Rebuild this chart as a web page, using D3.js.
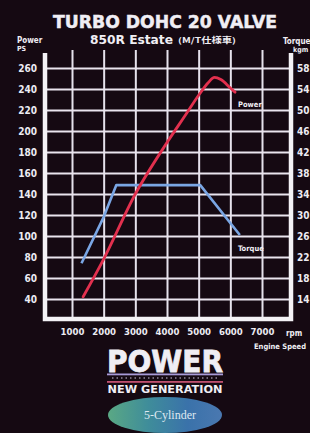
<!DOCTYPE html>
<html>
<head>
<meta charset="utf-8">
<script src="https://cdn.jsdelivr.net/npm/d3@7"></script>
<style>
  html, body { margin: 0; padding: 0; background: #150912; overflow: hidden; }
  svg { display: block; }
  .tick text { fill: #ecebf2; font-family: "DejaVu Sans Condensed", "DejaVu Sans", sans-serif; font-weight: bold; }
  .lbl { fill: #f0eef4; font-family: "DejaVu Sans Condensed", "DejaVu Sans", sans-serif; font-weight: bold; }
</style>
</head>
<body>
<div id="svg-area"></div>
<script>
// engine chart data
var rpmTicks = [1000, 2000, 3000, 4000, 5000, 6000, 7000];
var powerTicks = [40, 60, 80, 100, 120, 140, 160, 180, 200, 220, 240, 260];
var torqueTicks = [14, 18, 22, 26, 30, 34, 38, 42, 46, 50, 54, 58];

// Power PS curve
var powerRpm = [1350, 2000, 3000, 4000, 4600, 5000, 5300, 5500, 5700, 6000, 6150];
var powerPS  = [42, 78, 140, 189, 216, 234, 246, 251, 249, 241, 237];

// Torque kgm curve
var torqueRpm = [1300, 2000, 2400, 5050, 6300];
var torqueKgm = [20.8, 29.6, 35.7, 35.7, 26.2];

var svgWidth = 310;
var svgHeight = 433;

// frame box
var frame = { left: 45, right: 291, top: 53, bottom: 319 };

var svg = d3.select("#svg-area")
  .append("svg")
  .attr("width", svgWidth)
  .attr("height", svgHeight);

svg.append("rect")
  .attr("width", svgWidth)
  .attr("height", svgHeight)
  .attr("fill", "#150912");

// scales
var xScale = d3.scaleLinear().domain([1000, 7000]).range([72, 262]);
var yPower = d3.scaleLinear().domain([40, 260]).range([299, 68]);
var yTorque = d3.scaleLinear().domain([14, 58]).range([299, 68]);

// vertical grid + rpm labels
var bottomAxis = d3.axisBottom(xScale)
  .tickValues(rpmTicks)
  .tickSize(-(frame.bottom - 50))
  .tickPadding(9)
  .tickFormat(d3.format("d"));

var gx = svg.append("g")
  .attr("transform", `translate(0, ${frame.bottom})`)
  .call(bottomAxis);
gx.select(".domain").remove();
gx.selectAll("line").attr("stroke", "#e6e2ec").attr("stroke-width", 2);
gx.selectAll("text").style("font-size", "9.5px");

// horizontal grid + power labels
var leftAxis = d3.axisLeft(yPower)
  .tickValues(powerTicks)
  .tickSize(-(frame.right - frame.left))
  .tickPadding(8);

var gy = svg.append("g")
  .attr("transform", `translate(${frame.left}, 0)`)
  .call(leftAxis);
gy.select(".domain").remove();
gy.selectAll("line").attr("stroke", "#e9e4ee").attr("stroke-width", 2);
gy.selectAll("text").style("font-size", "10px");

// torque labels on the right (cut by the page edge)
var rightAxis = d3.axisRight(yTorque)
  .tickValues(torqueTicks)
  .tickSize(0)
  .tickPadding(6);

var gr = svg.append("g")
  .attr("transform", `translate(${frame.right}, 0)`)
  .call(rightAxis);
gr.select(".domain").remove();
gr.selectAll("text").style("font-size", "10px");

// white frame
svg.append("path")
  .attr("d", `M${frame.left},${frame.top}V${frame.bottom}H${frame.right}V${frame.top}`)
  .attr("fill", "none")
  .attr("stroke", "#f4f2f6")
  .attr("stroke-width", 4.5);

// curves
var powerData = d3.zip(powerRpm, powerPS);
var torqueData = d3.zip(torqueRpm, torqueKgm);

var powerLine = d3.line()
  .x(d => xScale(d[0]))
  .y(d => yPower(d[1]))
  .curve(d3.curveMonotoneX);

var torqueLine = d3.line()
  .x(d => xScale(d[0]))
  .y(d => yTorque(d[1]));

svg.append("path")
  .datum(torqueData)
  .attr("d", torqueLine)
  .attr("fill", "none")
  .attr("stroke", "#7aa6e4")
  .attr("stroke-width", 2.6)
  .attr("stroke-linejoin", "round");

svg.append("path")
  .datum(powerData)
  .attr("d", powerLine)
  .attr("fill", "none")
  .attr("stroke", "#e2304e")
  .attr("stroke-width", 2.8)
  .attr("stroke-linecap", "round");

// curve names
svg.append("text").attr("class", "lbl").attr("x", 238).attr("y", 107)
  .style("font-size", "7.5px").text("Power");
svg.append("text").attr("class", "lbl").attr("x", 238).attr("y", 251)
  .style("font-size", "7.5px").text("Torque");

// axis titles
svg.append("text").attr("class", "lbl").attr("x", 17).attr("y", 43)
  .style("font-size", "8px").text("Power");
svg.append("text").attr("class", "lbl").attr("x", 17).attr("y", 51)
  .style("font-size", "7px").text("PS");
svg.append("text").attr("class", "lbl").attr("x", 283).attr("y", 44)
  .style("font-size", "8px").text("Torque");
svg.append("text").attr("class", "lbl").attr("x", 293).attr("y", 52)
  .style("font-size", "7px").text("kgm");
svg.append("text").attr("class", "lbl").attr("x", 286).attr("y", 336)
  .style("font-size", "8px").text("rpm");
svg.append("text").attr("class", "lbl").attr("x", 254).attr("y", 349)
  .style("font-size", "7.5px").attr("fill", "#e8d8e0").text("Engine Speed");

// title
svg.append("text").attr("class", "lbl")
  .attr("x", 165).attr("y", 28)
  .attr("text-anchor", "middle")
  .attr("textLength", 224).attr("lengthAdjust", "spacingAndGlyphs")
  .style("font-family", "'DejaVu Sans', sans-serif")
  .style("font-size", "18px")
  .attr("stroke", "#f0eef4").attr("stroke-width", 0.5)
  .text("TURBO DOHC 20 VALVE");

svg.append("text").attr("class", "lbl")
  .attr("x", 90).attr("y", 44)
  .attr("textLength", 83).attr("lengthAdjust", "spacingAndGlyphs")
  .style("font-size", "11.5px")
  .text("850R Estate");
svg.append("text").attr("class", "lbl")
  .attr("x", 178).attr("y", 43)
  .attr("textLength", 58).attr("lengthAdjust", "spacingAndGlyphs")
  .style("font-family", "'Noto Sans CJK JP', sans-serif")
  .style("font-size", "7.5px")
  .attr("fill", "#d8d4e0")
  .text("(M/T仕様車)");

// POWER NEW GENERATION logo
svg.append("text").attr("class", "lbl")
  .attr("x", 165).attr("y", 372)
  .attr("text-anchor", "middle")
  .attr("textLength", 116).attr("lengthAdjust", "spacingAndGlyphs")
  .style("font-family", "'DejaVu Sans', sans-serif")
  .style("font-size", "30px")
  .attr("stroke", "#f0eef4").attr("stroke-width", 0.8)
  .text("POWER");

svg.append("rect").attr("x", 107).attr("y", 373.5).attr("width", 116).attr("height", 1.8)
  .attr("fill", "#a89ad8");
svg.append("line").attr("x1", 112).attr("x2", 218).attr("y1", 378).attr("y2", 378)
  .attr("stroke", "#cfc8e0").attr("stroke-width", 1.2).attr("stroke-dasharray", "1.5,3");
svg.append("rect").attr("x", 107).attr("y", 381).attr("width", 116).attr("height", 1.8)
  .attr("fill", "#c05070");

svg.append("text").attr("class", "lbl")
  .attr("x", 165).attr("y", 393)
  .attr("text-anchor", "middle")
  .attr("textLength", 115).attr("lengthAdjust", "spacingAndGlyphs")
  .style("font-family", "'DejaVu Sans', sans-serif")
  .style("font-size", "11px")
  .text("NEW GENERATION");

// 5-Cylinder badge
var grad = svg.append("defs").append("linearGradient")
  .attr("id", "badge").attr("x1", "0").attr("x2", "1").attr("y1", "0").attr("y2", "0");
grad.append("stop").attr("offset", "0").attr("stop-color", "#5aa884");
grad.append("stop").attr("offset", "0.35").attr("stop-color", "#3f8d9a");
grad.append("stop").attr("offset", "0.7").attr("stop-color", "#3a72aa");
grad.append("stop").attr("offset", "1").attr("stop-color", "#4a78b0");

svg.append("ellipse")
  .attr("cx", 165).attr("cy", 415)
  .attr("rx", 57).attr("ry", 18)
  .attr("fill", "url(#badge)");

svg.append("text")
  .attr("x", 170).attr("y", 419)
  .attr("text-anchor", "middle")
  .style("font-family", "'Liberation Serif', serif")
  .style("font-size", "12px")
  .attr("fill", "#dfe8f0")
  .text("5-Cylinder");
</script>
</body>
</html>
